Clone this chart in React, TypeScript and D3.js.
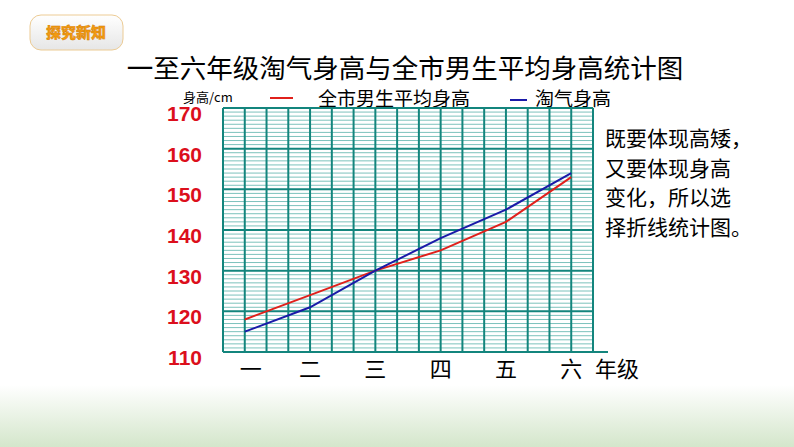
import * as d3 from "d3";

const grades = ["一", "二", "三", "四", "五", "六"];
const cityAvg = [118, 124, 130, 135, 142, 153];
const taoqi = [115, 121, 130, 138, 145, 154];
const yTicks = [110, 120, 130, 140, 150, 160, 170];
const noteLines = ["既要体现高矮，", "又要体现身高", "变化，所以选", "择折线统计图。"];

const cjk = "'Noto Sans CJK SC', sans-serif";

const App = () => {
  const width = 794;
  const height = 447;
  const cols = 17;

  const xCol = d3.scaleLinear().domain([0, cols]).range([223, 593]);
  // each grade sits on every third grid column, starting at column 1
  const x = (i: number) => xCol(1 + i * 3);
  const y = d3.scaleLinear().domain([110, 170]).range([352, 108]);

  const minor = d3.range(110, 171).filter((v) => v % 10 !== 0);
  const major = d3.range(110, 171, 10);
  const colLines = d3.range(0, cols + 1);

  const line = d3
    .line<number>()
    .x((_, i) => x(i))
    .y((d) => y(d));

  return (
    <svg
      width={width}
      height={height}
      style={{ position: "absolute", left: 0, top: 0, background: "#fff" }}
    >
      <defs>
        <linearGradient id="foot" x1="0" y1="0" x2="0" y2="1">
          <stop offset="0" stopColor="#ffffff" />
          <stop offset="1" stopColor="#d4e6cb" />
        </linearGradient>
        <linearGradient id="btn" x1="0" y1="0" x2="0" y2="1">
          <stop offset="0" stopColor="#ffffff" />
          <stop offset="1" stopColor="#e6e6e6" />
        </linearGradient>
      </defs>
      <rect x={0} y={385} width={width} height={62} fill="url(#foot)" />

      {/* header badge */}
      <rect x={30} y={15} width={93} height={35} rx={11} fill="url(#btn)" stroke="#eccb94" strokeWidth={1} />
      <text
        x={76}
        y={38}
        textAnchor="middle"
        fontFamily={cjk}
        fontWeight="900"
        fontSize={15}
        fill="#f39a12"
        stroke="#d07a00"
        strokeWidth={0.4}
      >
        探究新知
      </text>

      <text x={405} y={78} textAnchor="middle" fontFamily={cjk} fontSize={26.5} fill="#000">
        一至六年级淘气身高与全市男生平均身高统计图
      </text>

      {/* legend */}
      <text x={183} y={102} fontFamily={cjk} fontSize={13} fill="#000">
        身高/cm
      </text>
      <line x1={270} x2={293} y1={98} y2={98} stroke="#e0201b" strokeWidth={2} />
      <text x={318} y={106} fontFamily={cjk} fontSize={19} fill="#000">
        全市男生平均身高
      </text>
      <line x1={510} x2={527} y1={100} y2={100} stroke="#1a1aa8" strokeWidth={2} />
      <text x={535} y={106} fontFamily={cjk} fontSize={19} fill="#000">
        淘气身高
      </text>

      {/* grid */}
      <g>
        {minor.map((v) => (
          <line key={"m" + v} x1={xCol(0)} x2={xCol(cols)} y1={y(v)} y2={y(v)} stroke="#7cc2bc" strokeWidth={1} />
        ))}
        {colLines.map((c) => (
          <line key={"c" + c} x1={xCol(c)} x2={xCol(c)} y1={y(170)} y2={y(110)} stroke="#13857d" strokeWidth={2} />
        ))}
        {major.map((v) => (
          <line
            key={"M" + v}
            x1={xCol(0)}
            x2={v === 110 ? 608 : xCol(cols)}
            y1={y(v)}
            y2={y(v)}
            stroke="#13857d"
            strokeWidth={2}
          />
        ))}
      </g>

      {/* y tick labels */}
      {yTicks.map((v) => (
        <text
          key={"t" + v}
          x={202}
          y={y(v) + 5.5}
          dy="0.35em"
          textAnchor="end"
          fontFamily="'Liberation Sans', Arial, sans-serif"
          fontWeight="bold"
          fontSize={21}
          fill="#dc0f1c"
        >
          {v}
        </text>
      ))}

      {/* series */}
      <path d={line(cityAvg) ?? ""} fill="none" stroke="#e0201b" strokeWidth={2} />
      <path d={line(taoqi) ?? ""} fill="none" stroke="#1a1aa8" strokeWidth={2} />

      {/* x labels */}
      {grades.map((g, i) => (
        <text key={g} x={x(i) + (i === 0 ? 6 : 0)} y={377} textAnchor="middle" fontFamily={cjk} fontSize={22} fill="#000">
          {g}
        </text>
      ))}
      <text x={617} y={377} textAnchor="middle" fontFamily={cjk} fontSize={22} fill="#000">
        年级
      </text>

      {/* note */}
      {noteLines.map((t, i) => (
        <text key={t} x={605} y={146 + i * 29.5} fontFamily={cjk} fontSize={21} fill="#000">
          {t}
        </text>
      ))}
    </svg>
  );
};

export default App;
